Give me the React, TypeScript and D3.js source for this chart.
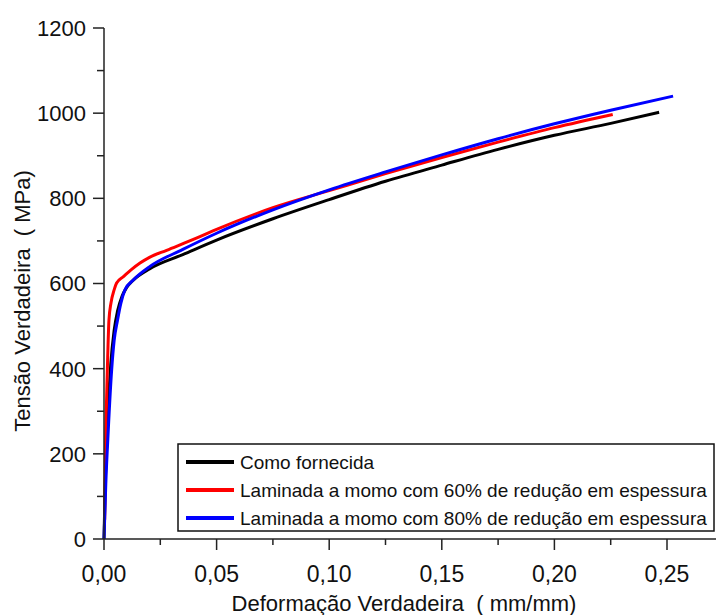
import React from "react";
import * as d3 from "d3";

const seriesNames = [
  "Como fornecida",
  "Laminada a momo com 60% de redução em espessura",
  "Laminada a momo com 80% de redução em espessura",
];
const seriesColors = ["#000000", "#ff0000", "#0000ff"];

const blackStrain = [0, 0.0005, 0.0012, 0.002, 0.003, 0.0045, 0.006, 0.008, 0.01, 0.013, 0.0204, 0.035, 0.05, 0.075, 0.1, 0.125, 0.15, 0.175, 0.2, 0.225, 0.2465];
const blackStress = [0, 120, 220, 320, 410, 490, 535, 570, 590, 608, 635, 668, 702, 752, 797, 840, 878, 915, 948, 976, 1002];

const redStrain = [0.0003, 0.0006, 0.0009, 0.0015, 0.0022, 0.0031, 0.0045, 0.0056, 0.0086, 0.012, 0.016, 0.0204, 0.0278, 0.0426, 0.05, 0.075, 0.1, 0.125, 0.15, 0.175, 0.2, 0.2259];
const redStress = [45, 200, 279, 400, 514, 554, 585, 601, 616, 632, 648, 662, 678, 710, 727, 778, 818, 858, 896, 932, 966, 997];

const blueStrain = [0, 0.0008, 0.0019, 0.0034, 0.0045, 0.006, 0.0075, 0.0093, 0.013, 0.0204, 0.035, 0.05, 0.075, 0.1, 0.125, 0.15, 0.175, 0.2, 0.225, 0.2527];
const blueStress = [0, 130, 256, 397, 466, 514, 554, 585, 608, 640, 680, 718, 773, 820, 862, 902, 940, 975, 1007, 1040];

const xMajorTicks = [0, 0.05, 0.1, 0.15, 0.2, 0.25];
const xMinorTicks = [0.025, 0.075, 0.125, 0.175, 0.225];
const yMajorTicks = [0, 200, 400, 600, 800, 1000, 1200];
const yMinorTicks = [100, 300, 500, 700, 900, 1100];

const xTitle = "Deformação Verdadeira\u00a0\u00a0( mm/mm)";
const yTitle = "Tensão Verdadeira\u00a0\u00a0( MPa)";

const W = 716;
const H = 615;
const FONT = "Arial, 'Liberation Sans', sans-serif";

export default function App() {
  const x = d3.scaleLinear().domain([0, 0.25]).range([104, 667]);
  const y = d3.scaleLinear().domain([0, 1200]).range([539, 28]);

  const series = [
    { xs: blackStrain, ys: blackStress },
    { xs: redStrain, ys: redStress },
    { xs: blueStrain, ys: blueStress },
  ];
  const line = d3
    .line<[number, number]>()
    .x((d) => x(d[0]))
    .y((d) => y(d[1]))
    .curve(d3.curveMonotoneX);

  const axisColor = "#222";
  const fmt = (v: number) => v.toFixed(2).replace(".", ",");

  return (
    <svg
      width={W}
      height={H}
      style={{ position: "absolute", left: 0, top: 0, background: "#fff" }}
      fontFamily={FONT}
    >
      {series.map((s, i) => (
        <path
          key={i}
          d={line(s.xs.map((v, j) => [v, s.ys[j]] as [number, number])) || ""}
          fill="none"
          stroke={seriesColors[i]}
          strokeWidth={3}
          strokeLinejoin="round"
        />
      ))}

      <line x1={x(0)} x2={x(0)} y1={y(1200)} y2={y(0)} stroke={axisColor} strokeWidth={1.5} />
      {yMajorTicks.map((t) => (
        <g key={"ym" + t}>
          <line x1={x(0) - 11} x2={x(0)} y1={y(t)} y2={y(t)} stroke={axisColor} strokeWidth={1.5} />
          <text x={86} y={y(t)} dy="0.36em" textAnchor="end" fontSize={22} fill="#111">
            {t}
          </text>
        </g>
      ))}
      {yMinorTicks.map((t) => (
        <line key={"yn" + t} x1={x(0) - 7} x2={x(0)} y1={y(t)} y2={y(t)} stroke={axisColor} strokeWidth={1.5} />
      ))}

      <line x1={x(0)} x2={W} y1={y(0)} y2={y(0)} stroke={axisColor} strokeWidth={1.5} />
      {xMajorTicks.map((t) => (
        <g key={"xm" + t}>
          <line x1={x(t)} x2={x(t)} y1={y(0)} y2={y(0) + 11} stroke={axisColor} strokeWidth={1.5} />
          <text x={x(t)} y={582} textAnchor="middle" fontSize={23} fill="#111">
            {fmt(t)}
          </text>
        </g>
      ))}
      {xMinorTicks.map((t) => (
        <line key={"xn" + t} x1={x(t)} x2={x(t)} y1={y(0)} y2={y(0) + 6} stroke={axisColor} strokeWidth={1.5} />
      ))}

      <text x={404} y={611} textAnchor="middle" fontSize={22} fill="#111">
        {xTitle}
      </text>
      <text transform={`translate(30, 301) rotate(-90)`} textAnchor="middle" fontSize={22} fill="#111">
        {yTitle}
      </text>

      <rect x={178} y={444} width={536} height={87} fill="#fff" stroke="#111" strokeWidth={1.5} />
      {seriesNames.map((n, i) => (
        <g key={"lg" + i}>
          <line x1={186} x2={234} y1={462 + i * 28} y2={462 + i * 28} stroke={seriesColors[i]} strokeWidth={4} />
          <text x={240} y={462 + i * 28} dy="0.36em" fontSize={19} fill="#111">
            {n}
          </text>
        </g>
      ))}
    </svg>
  );
}
